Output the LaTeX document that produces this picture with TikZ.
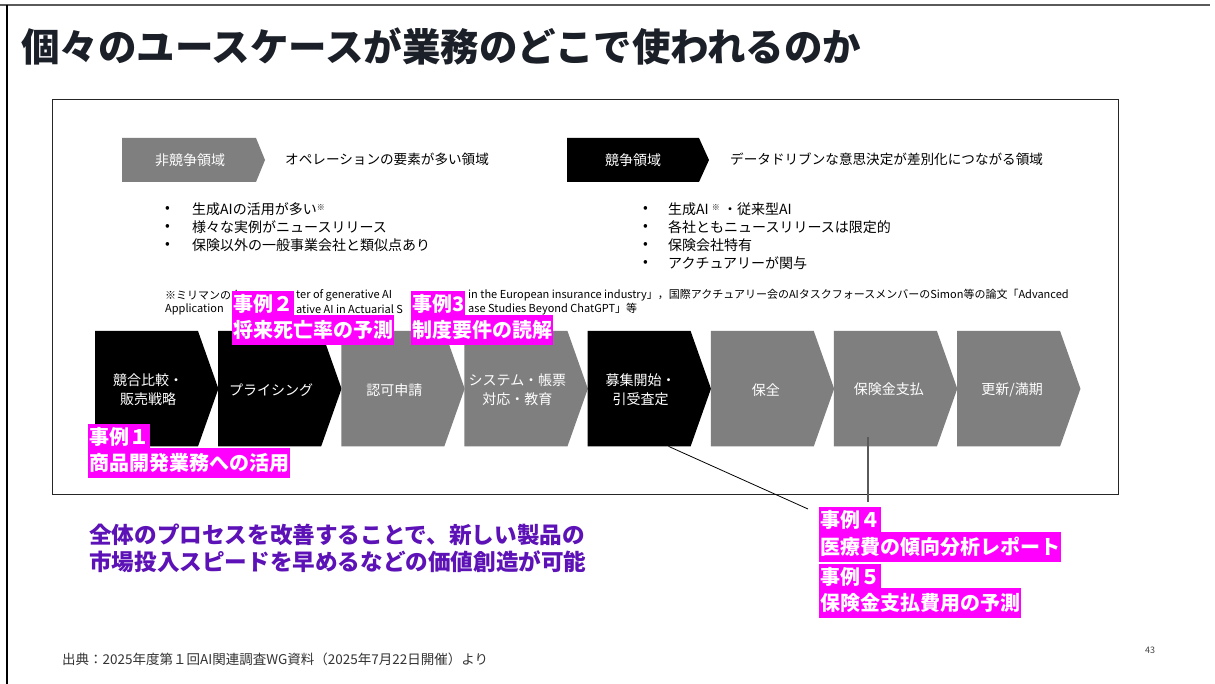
\documentclass[tikz,border=0pt]{standalone}
\usepackage{fontspec}
\setmainfont{Noto Sans CJK JP}
\usetikzlibrary{calc}
\definecolor{mag}{RGB}{255,0,255}
\definecolor{chgray}{RGB}{127,127,127}
\definecolor{purp}{RGB}{92,18,182}
\definecolor{titlec}{RGB}{27,31,40}
\definecolor{framegray}{RGB}{90,90,90}
\begin{document}
\begin{tikzpicture}[x=1pt,y=-1pt,
  chev/.style={minimum width=123pt, minimum height=115pt, inner sep=0pt, anchor=north west},
  ctext/.style={text=white, font=\fontsize{14}{19}\selectfont, align=center, inner sep=0pt},
  body/.style={font=\fontsize{13.6}{18}\selectfont, anchor=west, inner sep=0pt},
  bul/.style={font=\fontsize{14}{18}\selectfont, anchor=west, inner sep=0pt},
  fnote/.style={font=\fontsize{11}{13}\selectfont, anchor=west, inner sep=0pt},
  casea/.style={fill=mag, text=white, font=\bfseries\fontsize{20}{22}\selectfont, inner xsep=1pt, inner ysep=0pt, minimum height=25pt, anchor=north west},
  caseb/.style={fill=mag, text=white, font=\bfseries\fontsize{20}{22}\selectfont, inner xsep=1pt, inner ysep=0pt, minimum height=30pt, anchor=north west}]
\useasboundingbox (0,0) rectangle (1215,684);
\fill[white] (0,0) rectangle (1215,684);
% outer frame
\draw[framegray, line width=2pt] (0,5) -- (1210,5);
\draw[black, line width=1.2pt] (7,5) -- (7,684);
% title
\node[anchor=west, inner sep=0pt, text=titlec, font=\bfseries\fontsize{38.5}{40}\selectfont] (title) at (21,46) {個々のユースケースが業務のどこで使われるのか};
% inner box
\draw[black!85, line width=1pt] (52,100) rectangle (1118,494);
% headings
\fill[chgray] (122,138) -- (256,138) -- (265,160) -- (256,182) -- (122,182) -- cycle;
\node[text=white, font=\fontsize{14}{18}\selectfont, inner sep=0pt] (h1) at (190,160) {非競争領域};
\node[body] (h1t) at (285,159) {オペレーションの要素が多い領域};
\fill[black] (567,138) -- (699,138) -- (709,160) -- (699,182) -- (567,182) -- cycle;
\node[text=white, font=\fontsize{14}{18}\selectfont, inner sep=0pt] (h2) at (633,160) {競争領域};
\node[body] (h2t) at (730,159) {データドリブンな意思決定が差別化につながる領域};
% bullets left
\foreach \y/\t in {209/{生成AIの活用が多い\raisebox{4pt}{\fontsize{8}{8}\selectfont ※}}, 227/{様々な実例がニュースリリース}, 245/{保険以外の一般事業会社と類似点あり}}{
  \node[bul] at (165,\y) {•};
  \node[bul] at (192,\y) {\t};
}
% bullets right
\foreach \y/\t in {209/{生成AI \raisebox{4pt}{\fontsize{8}{8}\selectfont ※} ・従来型AI}, 227/{各社ともニュースリリースは限定的}, 245/{保険会社特有}, 263/{アクチュアリーが関与}}{
  \node[bul] at (643,\y) {•};
  \node[bul] at (668,\y) {\t};
}
% footnote (visible parts)
\node[fnote] (fn1a) at (165,295) {※ミリマンの白};
\node[fnote] (fn1b) at (296,295) {ter of generative AI};
\node[fnote] (fn1c) at (468,295) {in the European insurance industry」，国際アクチュアリー会のAIタスクフォースメンバーのSimon等の論文「Advanced};
\node[fnote] (fn2a) at (165,309) {Application};
\node[fnote] (fn2b) at (296,309) {ative AI in Actuarial S};
\node[fnote] (fn2c) at (468,309) {ase Studies Beyond ChatGPT」等};
% chevrons
\foreach \i/\c in {1/black,2/black,3/chgray,4/chgray,5/black,6/chgray,7/chgray,8/chgray}{
  \pgfmathsetmacro\xx{95+123.15*(\i-1)}
  \node[chev] (ch\i) at (\xx,331) {};
  \fill[\c] (ch\i.north west) -- ++(103,0) -- (ch\i.east) -- ($(ch\i.south west)+(103,0)$) -- (ch\i.south west) -- cycle;
}
\node[ctext] (t1) at ($(ch1.west)+(53,1)$) {競合比較・\\販売戦略};
\node[ctext] (t2) at ($(ch2.west)+(53,1)$) {プライシング};
\node[ctext] (t3) at ($(ch3.west)+(53,1)$) {認可申請};
\node[ctext] (t4) at ($(ch4.west)+(53,1)$) {システム・帳票\\対応・教育};
\node[ctext] (t5) at ($(ch5.west)+(53,1)$) {募集開始・\\引受査定};
\node[ctext] (t6) at ($(ch6.west)+(55,1)$) {保全};
\node[ctext] (t7) at ($(ch7.west)+(55,1)$) {保険金支払};
\node[ctext] (t8) at ($(ch8.west)+(55,1)$) {更新/満期};
% case labels
\node[casea] (k1a) at (88,424) {事例１};
\node[caseb] (k1b) at (88,448) {商品開発業務への活用};
\node[casea] (k2a) at (232,291) {事例２};
\node[caseb] (k2b) at (232,315) {将来死亡率の予測};
\node[casea] (k3a) at (411,291) {事例3};
\node[caseb] (k3b) at (411,315) {制度要件の読解};
\node[casea] (k4a) at (819,507) {事例４};
\node[caseb] (k4b) at (819,532) {医療費の傾向分析レポート};
\node[casea] (k5a) at (819,564) {事例５};
\node[caseb] (k5b) at (819,588) {保険金支払費用の予測};
% connectors
\draw[black, line width=0.8pt] ($(ch5.south west)+(81,0)$) -- ($(k4a.north west)+(-11,2)$);
\draw[framegray, line width=1.5pt] ($(ch7.south west)+(34,-9)$) -- ($(ch7.south west)+(34,56)$);
% message
\node[anchor=west, inner sep=0pt, align=left, text=purp, font=\bfseries\fontsize{22.6}{27}\selectfont] (msg) at (89,548) {全体のプロセスを改善することで、新しい製品の\\市場投入スピードを早めるなどの価値創造が可能};
% source & page
\node[anchor=west, inner sep=0pt, text=black!80, font=\fontsize{13.5}{15}\selectfont] (src) at (62,659) {出典：2025年度第１回AI関連調査WG資料（2025年7月22日開催）より};
\node[inner sep=0pt, text=black!75, font=\fontsize{9}{10}\selectfont] (pg) at (1150,650) {43};
\end{tikzpicture}
\end{document}
